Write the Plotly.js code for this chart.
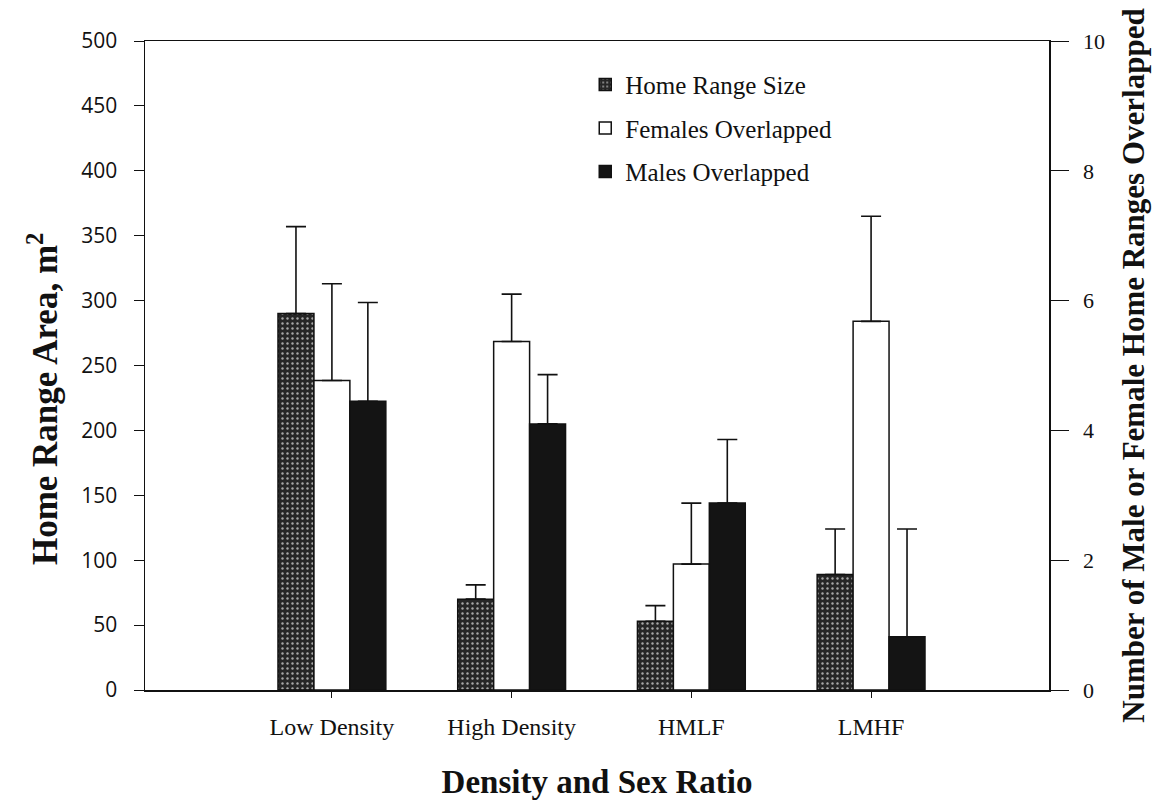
<!DOCTYPE html>
<html>
<head>
<meta charset="utf-8">
<script src="https://cdn.plot.ly/plotly-3.0.1.min.js"></script>
<style>html,body{margin:0;padding:0;background:#fff;}#chart{width:1166px;height:802px;}</style>
</head>
<body>
<div id="chart"></div>
<script>
const categories = ["Low Density", "High Density", "HMLF", "LMHF"];
const homeRange = [290, 70, 53, 89];
const homeRangeErr = [67, 11, 12, 35];
const femalesOverlapped = [4.77, 5.37, 1.94, 5.68];
const femalesErr = [1.49, 0.73, 0.94, 1.62];
const malesOverlapped = [4.45, 4.1, 2.88, 0.82];
const malesErr = [1.52, 0.76, 0.98, 1.66];
const leftTicks = [0, 50, 100, 150, 200, 250, 300, 350, 400, 450, 500];
const rightTicks = [0, 2, 4, 6, 8, 10];

const serif = "Liberation Serif, Times New Roman, serif";
const errStyle = (arr) => ({type: "data", array: arr, symmetric: false, arrayminus: arr.map(() => 0),
  color: "#111", thickness: 1.6, width: 10});

const traces = [
  {type: "bar", name: "Home Range Size", x: categories, y: homeRange, yaxis: "y",
   offsetgroup: "1", alignmentgroup: "a", legendgroup: "g1",
   marker: {color: "#262626", line: {color: "#111", width: 1.5},
            pattern: {shape: ".", bgcolor: "#262626", fgcolor: "#a8a8a8", size: 5, solidity: 0.18}},
   error_y: errStyle(homeRangeErr)},
  {type: "bar", name: "Females Overlapped", x: categories, y: femalesOverlapped, yaxis: "y2",
   offsetgroup: "2", alignmentgroup: "a", legendgroup: "g2",
   marker: {color: "#ffffff", line: {color: "#111", width: 1.5}},
   error_y: errStyle(femalesErr)},
  {type: "bar", name: "Males Overlapped", x: categories, y: malesOverlapped, yaxis: "y2",
   offsetgroup: "3", alignmentgroup: "a", legendgroup: "g3",
   marker: {color: "#141414", line: {color: "#111", width: 1.5}},
   error_y: errStyle(malesErr)}
];

const layout = {
  width: 1166, height: 802,
  paper_bgcolor: "#fff", plot_bgcolor: "#fff",
  margin: {l: 145, r: 117, t: 41, b: 112},
  barmode: "group", bargap: 0.4, bargroupgap: 0,
  showlegend: true,
  legend: {x: 0.487, y: 0.968, xanchor: "left", yanchor: "top", bgcolor: "rgba(0,0,0,0)",
           font: {family: serif, size: 25, color: "#111"}, tracegroupgap: 8, traceorder: "grouped"},
  xaxis: {type: "category", range: [-1.04, 3.99], showline: true, linecolor: "#111", linewidth: 1.5,
          mirror: true, ticks: "outside", ticklen: 6, tickcolor: "#111", showgrid: false,
          ticklabelstandoff: 9,
          tickfont: {family: serif, size: 24, color: "#111"},
          title: {text: "Density and Sex Ratio", font: {family: serif, size: 33, color: "#111", weight: "bold"}, standoff: 30}},
  yaxis: {range: [0, 500], tickvals: leftTicks, showline: true, linecolor: "#111", linewidth: 1.5,
          ticks: "outside", ticklen: 10, tickcolor: "#111", showgrid: false, zeroline: false,
          ticklabelstandoff: 12,
          tickfont: {family: "Open Sans, DejaVu Sans, sans-serif", size: 21, color: "#111"}},
  yaxis2: {range: [0, 10], tickvals: rightTicks, overlaying: "y", side: "right", showline: true,
           linecolor: "#111", linewidth: 1.5, ticks: "outside", ticklen: 18, tickcolor: "#111",
           showgrid: false, zeroline: false, ticklabelstandoff: 10,
           tickfont: {family: serif, size: 22, color: "#111"},
           title: {text: "Number of Male or Female Home Ranges Overlapped", font: {family: serif, size: 31, color: "#111", weight: "bold"}, standoff: 18}},
  annotations: [
    {text: "Home Range Area, m<sup>2</sup>", xref: "paper", yref: "paper", x: -0.113, y: 0.448,
     xanchor: "center", yanchor: "middle", textangle: -90, showarrow: false,
     font: {family: serif, size: 35, color: "#111", weight: "bold"}}
  ]
};

Plotly.newPlot("chart", traces, layout, {displayModeBar: false, staticPlot: true});
</script>
</body>
</html>
